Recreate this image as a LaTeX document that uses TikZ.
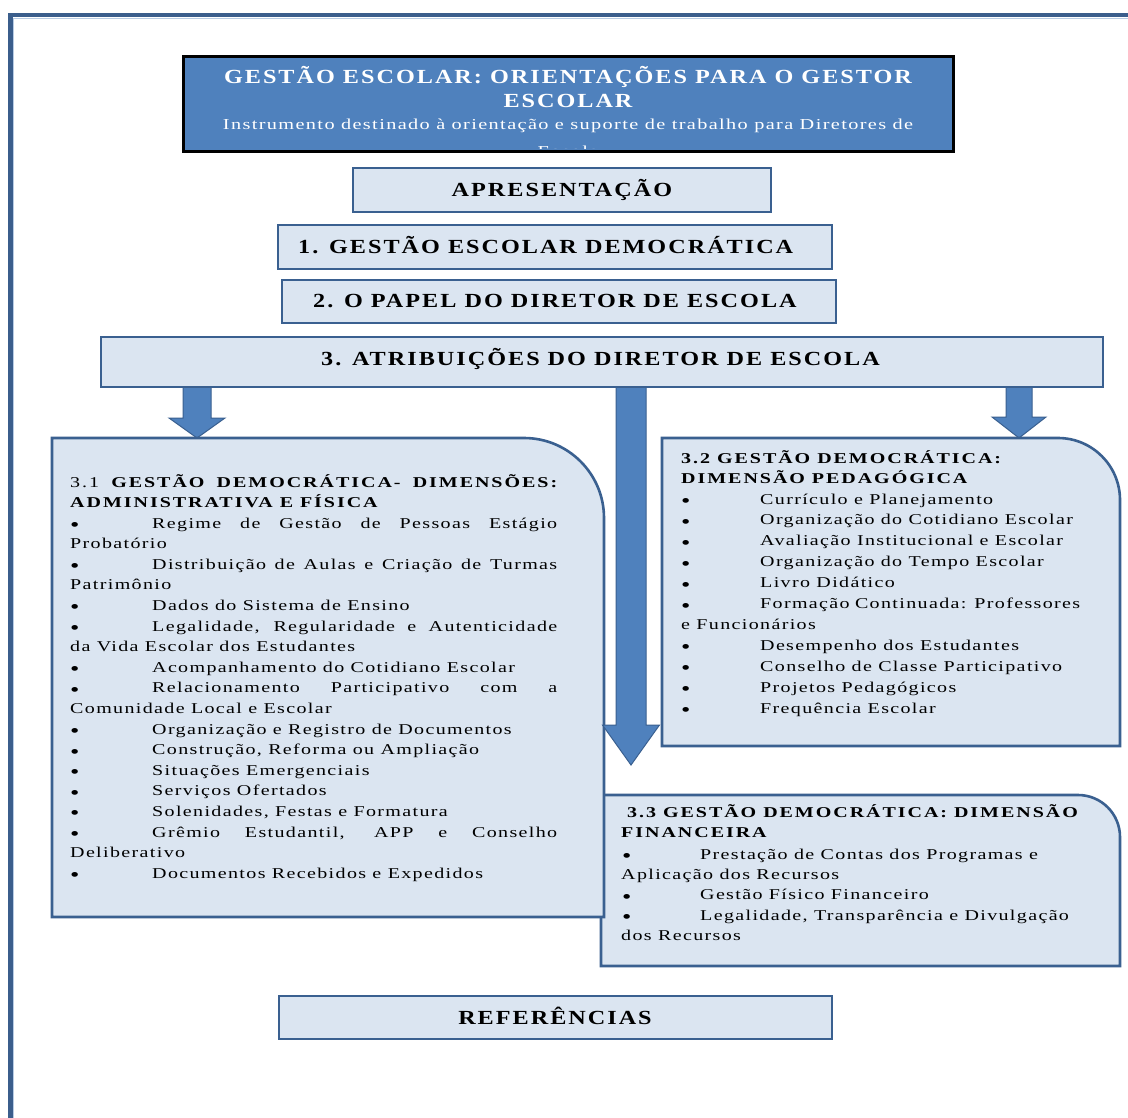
\documentclass[tikz,border=0pt]{standalone}
\usepackage{fontspec}
\setmainfont{Liberation Serif}
% wide, tracked serif faces used throughout the chart
\newfontfamily\capsfont{Liberation Serif}[FakeStretch=1.21,LetterSpace=10]
\newfontfamily\bodyfont{Liberation Serif}[FakeStretch=1.335,LetterSpace=9]
\newfontfamily\headfont{Liberation Serif}[FakeStretch=1.335,LetterSpace=13]
\usetikzlibrary{shadows}

\definecolor{titleblue}{HTML}{4F81BD}
\definecolor{paleblue}{HTML}{DBE5F1}
\definecolor{frameblue}{HTML}{3A6090}
\definecolor{pageblue}{HTML}{3B5E8C}
\definecolor{pageline}{HTML}{B8CCE4}

\tikzset{
  x=1pt, y=1pt,
  panel/.style={draw=frameblue, line width=2.6pt, fill=paleblue, inner sep=0pt,
    drop shadow={shadow xshift=1.2pt, shadow yshift=-1.2pt, opacity=0.35}},
  roundpanel/.style={draw=frameblue, line width=2.6pt, fill=paleblue},
  titlepanel/.style={draw=black, line width=3pt, fill=titleblue, inner sep=0pt,
    drop shadow={shadow xshift=1.2pt, shadow yshift=-1.2pt, opacity=0.4}},
  blockarrow/.style={fill=titleblue, draw=frameblue, line width=1pt, line join=miter},
  caps/.style={font=\capsfont\bfseries\fontsize{20}{24}\selectfont, inner sep=0pt, anchor=base},
  capsw/.style={caps, anchor=base west},
  titletext/.style={caps, text=white},
  subtext/.style={font=\bodyfont\fontsize{15.2}{18}\selectfont, text=white, inner sep=0pt, anchor=base},
  body/.style={font=\bodyfont\fontsize{15}{18}\selectfont, inner sep=0pt, anchor=base west},
  dot/.style={font=\bodyfont\fontsize{20}{18}\selectfont, inner sep=0pt, anchor=base west},
  head/.style={font=\headfont\bfseries\fontsize{15}{18}\selectfont, inner sep=0pt, anchor=base west},
}

% bullet entry: name, bullet x, text x, baseline y, text
\newcommand\entry[5]{%
  \node[dot] (#1b) at (#2,-#4-3.5) {•};
  \node[body] (#1) at (#3,-#4) {#5};}
% plain continuation line: name, x, baseline y, text
\newcommand\cont[4]{\node[body] (#1) at (#2,-#3) {#4};}
% justified text of a given width
\newcommand\just[2]{\makebox[#1pt][s]{#2}}
% block arrow: centre x, top y, neck y, tip y, half shaft, half head
\newcommand\blockarr[6]{%
  \draw[blockarrow] (#1-#5,-#2) -- (#1+#5,-#2) -- (#1+#5,-#3) -- (#1+#6,-#3)
    -- (#1,-#4) -- (#1-#6,-#3) -- (#1-#5,-#3) -- cycle;}
% panel with one rounded corner (top right): name, left, right, top, bottom, radius
\newcommand\roundbox[6]{%
  \draw[roundpanel] (#2,-#5) -- (#2,-#4) -- (#3-#6,-#4)
    arc[start angle=90, end angle=0, radius=#6] -- (#3,-#5) -- cycle;
  \coordinate (#1nw) at (#2,-#4);
  \coordinate (#1se) at (#3,-#5);}

\begin{document}
\begin{tikzpicture}
\useasboundingbox (0,0) rectangle (1128,-1118);
\fill[white] (0,0) rectangle (1128,-1118);

% page frame
\draw[pageline, line width=1.2pt] (13.8,-1118) -- (13.8,-18.6) -- (1128,-18.6);
\draw[pageblue, line width=4.4pt] (10.5,-1118) -- (10.5,-15.3) -- (1128,-15.3);

% title block
\node[titlepanel, minimum width=770pt, minimum height=95pt] (title) at (568,-104.5) {};
\node[titletext] (ttl1) at (568,-84) {GESTÃO ESCOLAR: ORIENTAÇÕES PARA O GESTOR};
\node[titletext] (ttl2) at (568,-108) {ESCOLAR};
\node[subtext] (ttl3) at (568,-129.5) {Instrumento destinado à orientação e suporte de trabalho para Diretores de};
\begin{scope}
  \clip (185,-59) rectangle (951,-148.5);
  \node[subtext] (ttl4) at (568,-156.5) {Escola};
\end{scope}

% chapter boxes
\node[panel, minimum width=418pt, minimum height=44pt] (apres) at (562,-190) {};
\node[caps] (apresT) at (562,-197) {APRESENTAÇÃO};
\node[panel, minimum width=554pt, minimum height=44pt] (cap1) at (555,-247) {};
\node[capsw] (cap1T) at (298,-254) {1. GESTÃO ESCOLAR DEMOCRÁTICA};
\node[panel, minimum width=554pt, minimum height=43pt] (cap2) at (559,-301.5) {};
\node[capsw] (cap2T) at (313,-308) {2. O PAPEL DO DIRETOR DE ESCOLA};

% arrows out of chapter 3
\blockarr{197}{386}{418}{438}{14}{28}
\blockarr{1019}{386}{417}{438}{13}{27}

% 3.3 financial dimension
\roundbox{fin}{601}{1120}{795}{966}{42}
% 3.1 administrative dimension
\roundbox{adm}{52}{604}{438}{917}{80}
% 3.2 pedagogical dimension
\roundbox{ped}{662}{1120}{438}{746}{62}

\blockarr{631}{386}{725}{765}{15}{28.5}

\node[panel, minimum width=1002pt, minimum height=50pt] (cap3) at (602,-362) {};
\node[capsw] (cap3T) at (321,-365) {3. ATRIBUIÇÕES DO DIRETOR DE ESCOLA};

% 3.1 contents
\node[head] (h31a) at (70,-487.5) {\just{487}{\mdseries 3.1 \bfseries GESTÃO DEMOCRÁTICA- DIMENSÕES:}};
\node[head] (h31b) at (70,-507) {ADMINISTRATIVA E FÍSICA};
\entry{a1}{70}{152}{528}{\just{405}{Regime de Gestão de Pessoas Estágio}}
\cont{a2}{70}{548.6}{Probatório}
\entry{a3}{70}{152}{569.2}{\just{405}{Distribuição de Aulas e Criação de Turmas}}
\cont{a4}{70}{589.8}{Patrimônio}
\entry{a5}{70}{152}{610.4}{Dados do Sistema de Ensino}
\entry{a6}{70}{152}{631}{\just{405}{Legalidade, Regularidade e Autenticidade}}
\cont{a7}{70}{651.6}{da Vida Escolar dos Estudantes}
\entry{a8}{70}{152}{672.2}{Acompanhamento do Cotidiano Escolar}
\entry{a9}{70}{152}{692.8}{\just{405}{Relacionamento Participativo com a}}
\cont{a10}{70}{713.4}{Comunidade Local e Escolar}
\entry{a11}{70}{152}{734}{Organização e Registro de Documentos}
\entry{a12}{70}{152}{754.6}{Construção, Reforma ou Ampliação}
\entry{a13}{70}{152}{775.2}{Situações Emergenciais}
\entry{a14}{70}{152}{795.8}{Serviços Ofertados}
\entry{a15}{70}{152}{816.4}{Solenidades, Festas e Formatura}
\entry{a16}{70}{152}{837}{\just{405}{Grêmio Estudantil, APP e Conselho}}
\cont{a17}{70}{857.6}{Deliberativo}
\entry{a18}{70}{152}{878.2}{Documentos Recebidos e Expedidos}

% 3.2 contents
\node[head] (h32a) at (681,-463) {3.2 GESTÃO DEMOCRÁTICA:};
\node[head] (h32b) at (681,-483) {DIMENSÃO PEDAGÓGICA};
\entry{p1}{681}{760}{504}{Currículo e Planejamento}
\entry{p2}{681}{760}{524.9}{Organização do Cotidiano Escolar}
\entry{p3}{681}{760}{545.8}{Avaliação Institucional e Escolar}
\entry{p4}{681}{760}{566.7}{Organização do Tempo Escolar}
\entry{p5}{681}{760}{587.6}{Livro Didático}
\entry{p6}{681}{760}{608.5}{\just{320}{Formação Continuada: Professores}}
\cont{p7}{681}{629.4}{e Funcionários}
\entry{p8}{681}{760}{650.3}{Desempenho dos Estudantes}
\entry{p9}{681}{760}{671.2}{Conselho de Classe Participativo}
\entry{p10}{681}{760}{692.1}{Projetos Pedagógicos}
\entry{p11}{681}{760}{713}{Frequência Escolar}

% 3.3 contents
\node[head] (h33a) at (627,-817) {3.3 GESTÃO DEMOCRÁTICA: DIMENSÃO};
\node[head] (h33b) at (621,-837) {FINANCEIRA};
\entry{f1}{622}{700}{859}{Prestação de Contas dos Programas e}
\cont{f2}{621}{879}{Aplicação dos Recursos}
\entry{f3}{622}{700}{899.5}{Gestão Físico Financeiro}
\entry{f4}{622}{700}{920}{Legalidade, Transparência e Divulgação}
\cont{f5}{621}{940}{dos Recursos}

% references
\node[panel, minimum width=553pt, minimum height=43pt] (refs) at (555.5,-1017.5) {};
\node[caps] (refsT) at (555,-1024) {REFERÊNCIAS};
\end{tikzpicture}
\end{document}
